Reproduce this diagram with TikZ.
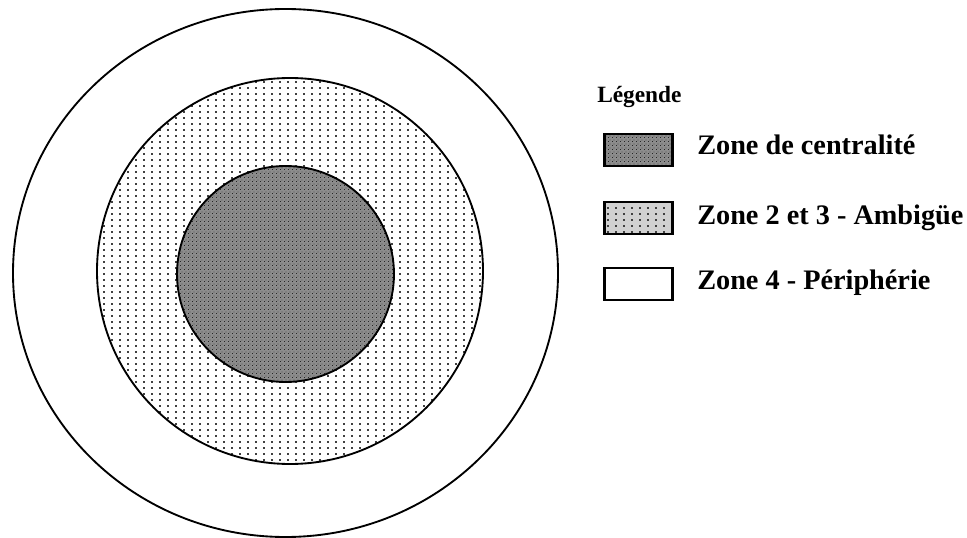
\documentclass[tikz,border=0pt]{standalone}
\usepackage{fontspec}
\setmainfont{Liberation Serif}
\usepackage{tikz}
\usetikzlibrary{patterns,positioning}
\pgfdeclarepatternformonly{zonedots}{\pgfqpoint{-1pt}{-1pt}}{\pgfqpoint{1pt}{1pt}}{\pgfqpoint{6pt}{4.5pt}}{%
  \pgfpathrectangle{\pgfqpoint{-0.5pt}{-0.5pt}}{\pgfqpoint{1pt}{1pt}}\pgfusepath{fill}}
\pgfdeclarepatternformonly{zonechecks}{\pgfqpoint{0pt}{0pt}}{\pgfqpoint{3pt}{3pt}}{\pgfqpoint{3pt}{3pt}}{%
  \pgfpathrectangle{\pgfqpoint{0pt}{0pt}}{\pgfqpoint{0.75pt}{0.75pt}}%
  \pgfpathrectangle{\pgfqpoint{1.5pt}{1.5pt}}{\pgfqpoint{0.75pt}{0.75pt}}\pgfusepath{fill}}
\tikzset{
  ring/.style={draw=black, line width=1.4pt},
  centrezone/.style={preaction={fill=black!45}, pattern=zonechecks, pattern color=black!85},
  ambizone/.style={preaction={fill=#1}, pattern=zonedots, pattern color=black!75},
  periphzone/.style={fill=white},
  keybox/.style={draw=black, line width=1.7pt, minimum width=51pt, minimum height=23.5pt, inner sep=0pt},
  keytext/.style={font=\fontsize{21.2}{25}\selectfont\bfseries, inner sep=0pt, anchor=base west},
}
\begin{document}
\begin{tikzpicture}[x=0.75pt, y=-0.75pt]
\useasboundingbox (0,0) rectangle (967,538);
% zones
\draw[ring, periphzone] (285.5,273) ellipse [x radius=272.5, y radius=264];
\draw[ring, ambizone=white] (290,271) ellipse [x radius=193, y radius=193];
\draw[ring, centrezone] (285.5,274) ellipse [x radius=108.5, y radius=108];
% legende
\node[font=\fontsize{17.5}{20}\selectfont\bfseries, inner sep=0pt, anchor=base west] (titre) at (597,103) {Légende};
\node[keybox, centrezone] (k1) at (638.5,150) {};
\node[keybox, ambizone=black!18] (k2) at (638.5,218) {};
\node[keybox, periphzone] (k3) at (638.5,284) {};
\node[keytext] (t1) at (697,155) {Zone de centralité};
\node[keytext] (t2) at (697,225) {Zone 2 et 3 - Ambigüe};
\node[keytext] (t3) at (697,290) {Zone 4 - Périphérie};
\end{tikzpicture}
\end{document}
